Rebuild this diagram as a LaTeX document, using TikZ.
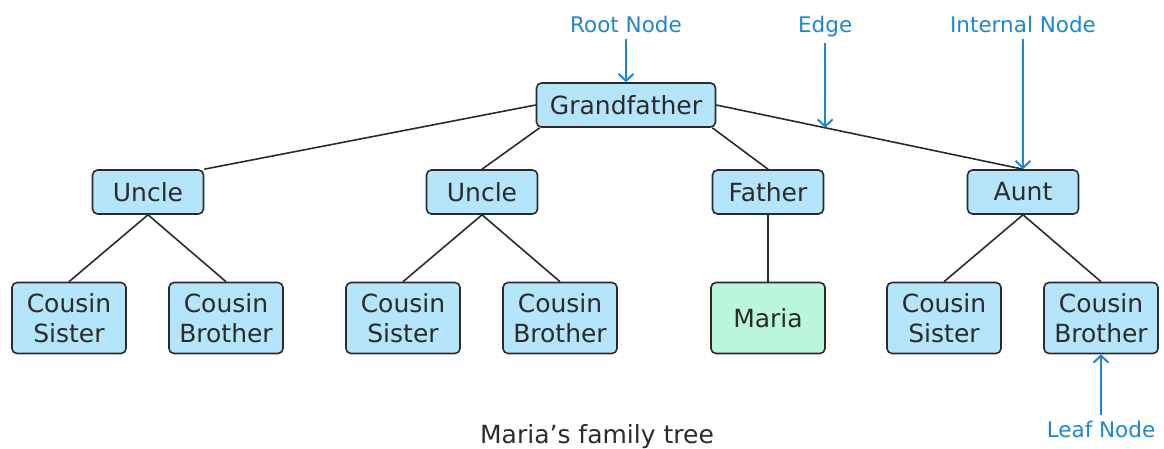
\documentclass[tikz,border=0pt]{standalone}
\usepackage{fontspec}
\setmainfont{DejaVu Sans}
\usetikzlibrary{arrows.meta,positioning,calc}
\definecolor{ink}{HTML}{2B2B2B}
\definecolor{tagblue}{HTML}{1F87CF}
\definecolor{boxblue}{HTML}{B5E5FB}
\definecolor{boxgreen}{HTML}{BAF7DC}
\tikzset{
  personbox/.style={
    rounded corners=5pt,draw=ink,fill=boxblue,
    line width=1.6pt,minimum width=111pt,minimum height=44pt,
    inner sep=0pt,align=center,text=ink,font=\fontsize{25}{30}\selectfont
  },
  kidbox/.style={personbox,minimum width=114pt,minimum height=71pt},
  selfbox/.style={kidbox,fill=boxgreen},
  tagtext/.style={text=tagblue,inner sep=5pt,font=\fontsize{21.5}{24}\selectfont},
  treeline/.style={draw=ink,line width=1.6pt},
  pointer/.style={-{Straight Barb[length=7pt,width=15pt]},draw=tagblue,line width=2pt}
}

\begin{document}
\begin{tikzpicture}[x=1pt,y=-1pt]
\useasboundingbox (0,0) rectangle (1164,449);

\node[personbox,minimum width=179pt] (gf) at (626,105) {Grandfather};

\node[personbox] (u1) at (148,192) {Uncle};
\node[personbox] (u2) at (482,192) {Uncle};
\node[personbox] (fa) at (768,192) {Father};
\node[personbox] (au) at (1023,192) {Aunt};

\node[kidbox] (cs1) at (69,318) {Cousin\\Sister};
\node[kidbox] (cb1) at (226,318) {Cousin\\Brother};
\node[kidbox] (cs2) at (403,318) {Cousin\\Sister};
\node[kidbox] (cb2) at (560,318) {Cousin\\Brother};
\node[selfbox] (me) at (768,318) {Maria};
\node[kidbox] (cs3) at (944,318) {Cousin\\Sister};
\node[kidbox] (cb3) at (1101,318) {Cousin\\Brother};

\draw[treeline] (gf.west) -- (u1.north east);
\draw[treeline] ([xshift=4pt]gf.south west) -- (u2.north);
\draw[treeline] ([xshift=-4pt]gf.south east) -- (fa.north);
\draw[treeline] (gf.east) -- (au.north);

\draw[treeline] (u1.south) -- (cs1.north);
\draw[treeline] (u1.south) -- (cb1.north);
\draw[treeline] (u2.south) -- (cs2.north);
\draw[treeline] (u2.south) -- (cb2.north);
\draw[treeline] (fa.south) -- (me.north);
\draw[treeline] (au.south) -- (cs3.north);
\draw[treeline] (au.south) -- (cb3.north);

% labels
\coordinate (ep) at ($(gf.east)!0.355!(au.north)$);
\node[tagtext,anchor=base] (roottag) at (626,33) {Root Node};
\node[tagtext,anchor=base] (edgetag) at (ep |- 0,33) {Edge};
\node[tagtext,anchor=base] (innertag) at (1023,33) {Internal Node};
\node[tagtext,anchor=base] (leaftag) at (1101,437) {Leaf Node};

\draw[pointer] (roottag.south) -- (gf.north);
\draw[pointer] (edgetag.south) -- (ep);
\draw[pointer] (innertag.south) -- (au.north);
\draw[pointer] (leaftag.north) -- (cb3.south);

\node[anchor=base,text=ink,font=\fontsize{25}{30}\selectfont] (caption) at (597,443) {Maria’s family tree};
\end{tikzpicture}
\end{document}
